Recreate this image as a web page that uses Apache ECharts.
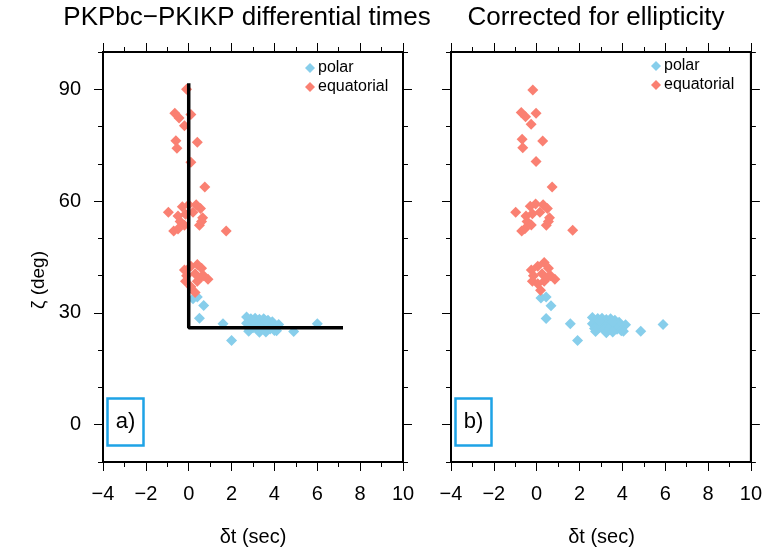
<!DOCTYPE html>
<html><head><meta charset="utf-8">
<script src="https://cdn.jsdelivr.net/npm/echarts@6/dist/echarts.min.js"></script>
<style>html,body{margin:0;padding:0;background:#fff}#c{width:765px;height:551px}</style>
</head><body><div id="c"></div>
<script>
// ---- data ----
const xTicks = [-4, -2, 0, 2, 4, 6, 8, 10];
const yTickLabels = [0, 30, 60, 90];
const titles = ['PKPbc\u2212PKIKP differential times', 'Corrected for ellipticity'];
const panelLabels = ['a)', 'b)'];
const xName = '\u03b4t (sec)';
const yName = '\u03b6 (deg)';

const polarA = [
  [0.4,34.3],[0.2,33.8],[0.7,32.0],[0.5,28.6],[1.6,27.1],[2.0,22.6],[4.9,25.0],[6.0,27.1],
  [2.7,28.9],[2.9,28.4],[3.1,28.6],[3.3,28.3],[3.5,28.4],[3.7,28.0],[3.9,27.6],[2.7,27.2],
  [2.9,26.8],[3.1,27.1],[3.3,26.9],[3.5,27.2],[3.7,26.7],[3.9,26.6],[4.2,26.9],[2.8,25.9],
  [3.0,26.0],[3.2,25.6],[3.4,25.9],[3.6,25.4],[3.8,25.7],[4.0,25.3],[2.8,25.1],[3.3,24.8],
  [3.6,24.9],[4.1,25.2],[3.0,27.8],[3.6,27.8]
];
const equatorialA = [
  [-0.1,90.0],[-0.65,83.6],[-0.45,82.3],[0.1,83.2],[-0.2,80.2],[-0.6,76.2],[-0.55,74.2],[0.4,75.8],[0.1,70.4],[0.75,63.8],
  [-0.95,57.0],[-0.3,58.5],[0.0,59.0],[0.35,59.0],[0.55,58.0],[-0.5,56.0],[-0.15,56.5],[0.2,57.0],[0.65,55.5],[-0.4,54.5],
  [0.5,53.5],[0.6,54.5],[-0.7,52.0],[-0.5,52.5],[-0.2,53.5],[1.75,52.0],
  [-0.2,41.5],[0.1,42.5],[0.4,43.0],[0.6,42.0],[-0.1,40.0],[0.3,40.5],[0.7,40.0],[0.9,39.0],[-0.15,38.5],[0.4,38.5],
  [0.1,37.0],[0.3,35.5],[0.55,39.5]
];
const polarB = [
  [0.2,34.0],[0.44,34.3],[0.67,31.9],[0.44,28.5],[1.57,27.1],[1.91,22.6],[4.86,25.1],[5.9,26.9],
  [2.6,28.8],[2.85,28.5],[3.05,28.6],[3.25,28.2],[3.45,28.4],[3.65,28.0],[3.85,27.5],[2.6,27.1],
  [2.85,26.7],[3.05,27.2],[3.25,26.8],[3.45,27.1],[3.65,26.6],[3.85,26.7],[4.15,26.8],[2.7,25.8],
  [2.95,26.1],[3.15,25.5],[3.35,25.8],[3.55,25.3],[3.75,25.6],[3.95,25.2],[2.75,25.0],[3.25,24.7],
  [3.55,24.9],[4.05,25.1],[2.95,27.8],[3.55,27.7]
];
const equatorialB = [
  [-0.18,89.8],[-0.72,83.8],[-0.52,82.6],[-0.03,83.6],[-0.26,80.6],[-0.68,76.6],[-0.65,74.3],[0.28,76.1],[-0.03,70.6],[0.72,63.8],
  [-0.98,57.0],[-0.3,58.6],[-0.05,59.2],[0.3,59.0],[0.5,58.0],[-0.5,56.0],[-0.2,56.6],[0.15,57.0],[0.6,55.5],[-0.45,54.5],
  [0.45,53.5],[0.55,54.5],[-0.7,52.0],[-0.55,52.6],[-0.25,53.6],[1.68,52.2],
  [-0.25,41.5],[0.05,42.5],[0.35,43.5],[0.55,42.0],[-0.15,40.0],[0.25,40.5],[0.65,40.0],[0.85,39.0],[-0.2,38.5],[0.35,38.5],
  [0.05,37.8],[0.18,36.1],[0.5,39.5]
];
const guideLine = [[0, 91.6], [0, 26.0], [7.2, 26.0]];

// ---- styles ----
const FONT = 'Liberation Sans, Arial, sans-serif';
const BLUE = '#87CEEB', RED = '#FA8072', BOX = '#1ea3e6';
const gridPos = [
  {left: 103, top: 52, width: 300, height: 410},
  {left: 451, top: 52, width: 301, height: 410}
];
const fmt = v => String(v).replace('-', '\u2212');

function xAxes(g) {
  const base = {gridIndex: g, type: 'value', min: -4, max: 10, interval: 2,
    axisLine: {show: true, onZero: false, lineStyle: {color: '#000', width: 2}},
    axisTick: {show: true, length: 9, lineStyle: {color: '#000', width: 1}},
    minorTick: {show: true, splitNumber: 2, length: 5, lineStyle: {color: '#000', width: 1}},
    splitLine: {show: false}, minorSplitLine: {show: false}};
  return [
    Object.assign({}, base, {position: 'bottom',
      axisLabel: {show: true, margin: 22, fontSize: 20, color: '#000', fontFamily: FONT, formatter: fmt}}),
    Object.assign({}, base, {position: 'top', axisLabel: {show: false}})
  ];
}
function yAxes(g, showLabels) {
  const line = {show: true, onZero: false, lineStyle: {color: '#000', width: 2}};
  const major = {gridIndex: g, type: 'value', min: -10, max: 100, interval: 10,
    axisLine: line,
    axisTick: {show: true, length: 9, customValues: yTickLabels, lineStyle: {color: '#000', width: 1}},
    splitLine: {show: false}};
  const minor = {gridIndex: g, type: 'value', min: -10, max: 100, interval: 10,
    axisLine: {show: false, onZero: false}, axisLabel: {show: false},
    axisTick: {show: true, length: 5, lineStyle: {color: '#000', width: 1}},
    splitLine: {show: false}};
  return [
    Object.assign({}, major, {position: 'left',
      axisLabel: {show: showLabels, customValues: yTickLabels, margin: 22, fontSize: 20, color: '#000', fontFamily: FONT}}),
    Object.assign({}, major, {position: 'right', axisLabel: {show: false}}),
    Object.assign({}, minor, {position: 'left'}),
    Object.assign({}, minor, {position: 'right'})
  ];
}

function scatter(name, data, xi, yi, color) {
  return {name, type: 'scatter', data, xAxisIndex: xi, yAxisIndex: yi,
    symbol: 'diamond', symbolSize: 11, itemStyle: {color, opacity: 1}, z: 2, silent: true};
}
function legend(left, top) {
  return {show: true, data: ['polar', 'equatorial'], orient: 'vertical', left, top,
    icon: 'diamond', itemWidth: 10, itemHeight: 10, itemGap: 3, padding: 0, selectedMode: false,
    textStyle: {fontSize: 16, color: '#000', fontFamily: FONT, padding: [0, 0, 0, -2], lineHeight: 16}};
}

const graphic = [];
const titleCenters = [247, 596];
titles.forEach((t, i) => {
  const g = gridPos[i];
  graphic.push({type: 'text', x: titleCenters[i], y: 18,
    style: {text: t, fontSize: 26, fontFamily: FONT, fill: '#000', textAlign: 'center', textVerticalAlign: 'middle'}});
  graphic.push({type: 'text', x: g.left + g.width / 2, y: 537,
    style: {text: xName, fontSize: 20, fontFamily: FONT, fill: '#000', textAlign: 'center', textVerticalAlign: 'middle'}});
  graphic.push({type: 'rect', shape: {x: g.left + 4.5, y: 398.5, width: 36, height: 47},
    style: {fill: '#fff', stroke: BOX, lineWidth: 2.5}, z: 10});
  graphic.push({type: 'text', x: g.left + 22.5, y: 422, z: 11,
    style: {text: panelLabels[i], fontSize: 22, fontFamily: FONT, fill: '#000', textAlign: 'center', textVerticalAlign: 'middle'}});
});
graphic.push({type: 'text', x: 39, y: 280, rotation: Math.PI / 2,
  style: {text: yName, fontSize: 19, fontFamily: FONT, fill: '#000', textAlign: 'center', textVerticalAlign: 'middle'}});

const chart = echarts.init(document.getElementById('c'), null, {renderer: 'canvas'});
chart.setOption({
  animation: false,
  backgroundColor: '#fff',
  grid: gridPos.map(g => Object.assign({show: true, borderColor: '#000', borderWidth: 2, backgroundColor: 'transparent'}, g)),
  xAxis: [...xAxes(0), ...xAxes(1)],
  yAxis: [...yAxes(0, true), ...yAxes(1, false)],
  legend: [legend(305, 60), legend(651, 58)],
  graphic,
  series: [
    scatter('polar', polarA, 0, 0, BLUE),
    scatter('equatorial', equatorialA, 0, 0, RED),
    scatter('polar', polarB, 2, 4, BLUE),
    scatter('equatorial', equatorialB, 2, 4, RED),
    {type: 'line', data: guideLine, xAxisIndex: 0, yAxisIndex: 0, symbol: 'none',
      lineStyle: {color: '#000', width: 3.5}, z: 5, silent: true}
  ]
});
</script></body></html>
